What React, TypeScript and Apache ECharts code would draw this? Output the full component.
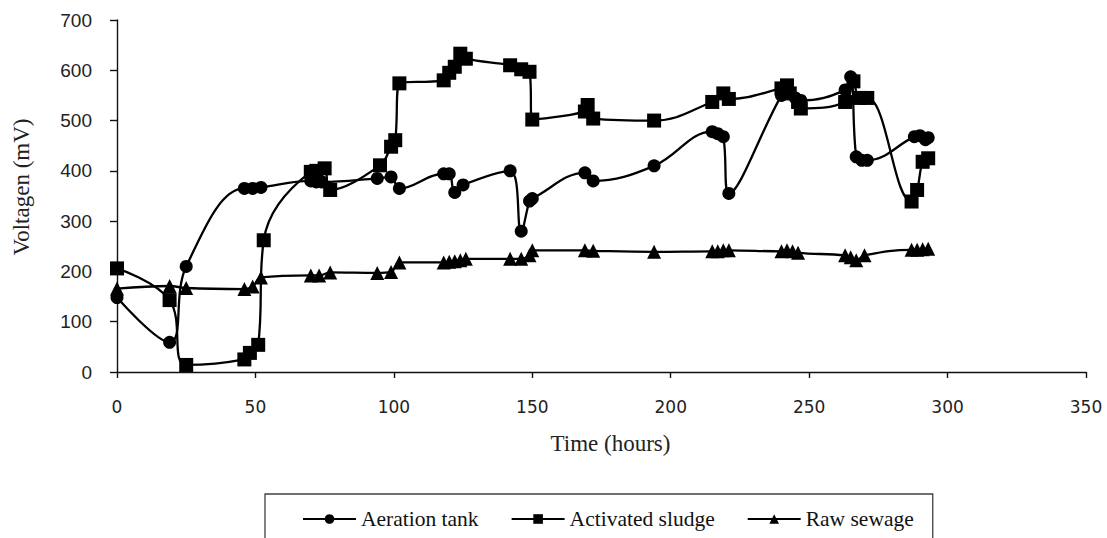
import React, { useEffect, useRef } from "react";
import * as echarts from "echarts";

const xTicks = [0, 50, 100, 150, 200, 250, 300, 350];
const yTicks = [0, 100, 200, 300, 400, 500, 600, 700];

const seriesNames = ["Aeration tank", "Activated sludge", "Raw sewage"];

const aerationHours = [0, 19, 25, 46, 49, 52, 70, 72, 74, 94, 99, 102, 118, 120, 122, 125, 142, 146, 149, 150, 169, 172, 194, 215, 217, 219, 221, 240, 242, 245, 247, 263, 265, 267, 269, 271, 288, 290, 292, 293];
const aerationValues = [148, 59, 210, 365, 365, 367, 380, 378, 378, 385, 388, 365, 394, 394, 357, 372, 400, 280, 340, 345, 396, 380, 410, 478, 474, 468, 355, 550, 557, 545, 540, 561, 587, 428, 421, 421, 468, 470, 462, 466];

const sludgeHours = [0, 19, 25, 46, 48, 51, 53, 70, 72, 75, 77, 95, 99, 100.5, 102, 118, 120, 122, 124, 126, 142, 146, 149, 150, 169, 170, 172, 194, 215, 219, 221, 240, 242, 243, 246, 247, 263, 266, 268, 271, 287, 289, 291, 293];
const sludgeValues = [206, 143, 14, 25, 38, 54, 262, 398, 400, 405, 362, 411, 448, 461, 574, 580, 595, 607, 633, 623, 610, 602, 597, 502, 518, 531, 504, 500, 537, 554, 543, 564, 570, 554, 537, 524, 537, 578, 545, 545, 339, 362, 418, 425];

const sewageHours = [0, 19, 25, 46, 49, 52, 70, 73, 77, 94, 99, 102, 118, 120, 122, 124, 126, 142, 146, 149, 150, 169, 172, 194, 215, 217, 219, 221, 240, 242, 244, 246, 263, 265, 267, 270, 287, 289, 291, 293];
const sewageValues = [166, 171, 167, 165, 170, 188, 192, 192, 198, 197, 199, 218, 218, 219, 220, 222, 225, 225, 225, 232, 242, 242, 241, 239, 240, 240, 242, 242, 240, 242, 240, 237, 232, 228, 222, 232, 243, 243, 244, 245];

const pairs = (xs: number[], ys: number[]) => xs.map((x, i) => [x, ys[i]]);

export default function App() {
  const ref = useRef<HTMLDivElement>(null);

  useEffect(() => {
    if (!ref.current) return;
    const chart = echarts.init(ref.current, null, { renderer: "svg" });
    const lineStyle = { color: "#000", width: 2.3 };
    const itemStyle = { color: "#000" };
    chart.setOption({
      animation: false,
      backgroundColor: "#fff",
      grid: { left: 117, right: 21, top: 20, bottom: 166, outerBoundsMode: "none" },
      legend: {
        data: seriesNames,
        left: 265,
        top: 494,
        orient: "horizontal",
        borderColor: "#404040",
        borderWidth: 1.3,
        padding: [14, 19, 30, 37],
        itemGap: 32,
        itemWidth: 53,
        itemHeight: 12,
        textStyle: { fontFamily: "Liberation Serif", fontSize: 21.5, color: "#111" },
      },
      xAxis: {
        type: "value",
        min: xTicks[0],
        max: xTicks[xTicks.length - 1],
        interval: 50,
        name: "Time (hours)",
        nameLocation: "middle",
        nameGap: 60,
        nameTextStyle: { fontFamily: "Liberation Serif", fontSize: 23, color: "#222", padding: [0, 0, 0, 18] },
        axisLine: { show: true, lineStyle: { color: "#111", width: 1.4 } },
        axisTick: { show: true, length: 6, lineStyle: { color: "#111", width: 1.4 } },
        axisLabel: { margin: 26, fontFamily: "DejaVu Sans", fontSize: 17, color: "#222" },
        splitLine: { show: false },
      },
      yAxis: {
        type: "value",
        min: yTicks[0],
        max: yTicks[yTicks.length - 1],
        interval: 100,
        name: "Voltagen (mV)",
        nameLocation: "middle",
        nameGap: 84,
        nameTextStyle: { fontFamily: "Liberation Serif", fontSize: 23, color: "#222", padding: [0, 0, 0, 18] },
        axisLine: { show: true, lineStyle: { color: "#111", width: 1.4 } },
        axisTick: { show: true, length: 7, lineStyle: { color: "#111", width: 1.4 } },
        axisLabel: { margin: 25, fontFamily: "Liberation Sans", fontSize: 19, color: "#222" },
        splitLine: { show: false },
      },
      series: [
        {
          name: seriesNames[0],
          type: "line",
          smooth: 0.4,
          symbol: "circle",
          symbolSize: 13,
          showAllSymbol: true,
          lineStyle,
          itemStyle,
          data: pairs(aerationHours, aerationValues),
        },
        {
          name: seriesNames[1],
          type: "line",
          smooth: 0.4,
          symbol: "rect",
          symbolSize: 14,
          showAllSymbol: true,
          lineStyle,
          itemStyle,
          data: pairs(sludgeHours, sludgeValues),
        },
        {
          name: seriesNames[2],
          type: "line",
          smooth: 0.4,
          symbol: "triangle",
          symbolSize: 14,
          showAllSymbol: true,
          lineStyle,
          itemStyle,
          data: pairs(sewageHours, sewageValues),
        },
      ],
    });
    return () => chart.dispose();
  }, []);

  return (
    <div
      ref={ref}
      style={{ position: "fixed", left: 0, top: 0, width: 1107, height: 538, background: "#fff" }}
    />
  );
}
